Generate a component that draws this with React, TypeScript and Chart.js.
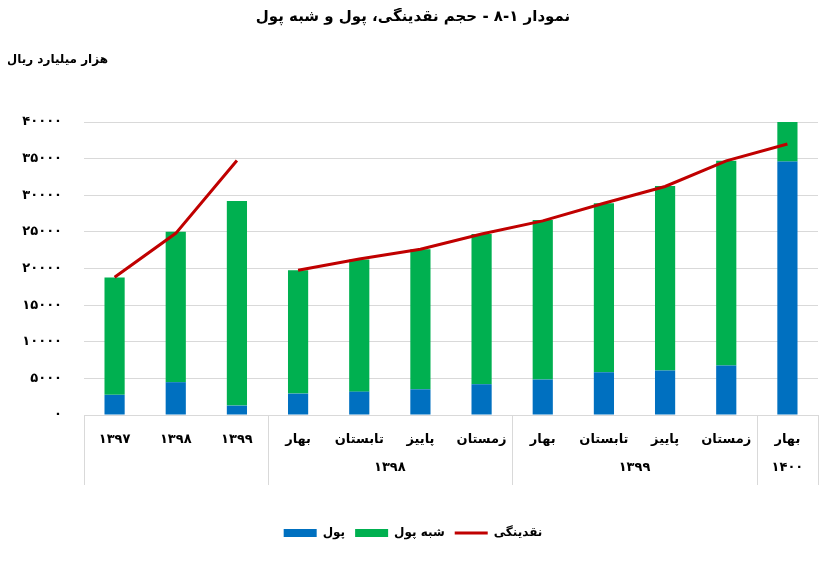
import React, { useEffect, useRef } from 'react';
import { Chart, registerables } from 'chart.js';

Chart.register(...registerables);

// ---- data ----
const categories = ['۱۳۹۷', '۱۳۹۸', '۱۳۹۹', 'بهار', 'تابستان', 'پاییز', 'زمستان', 'بهار', 'تابستان', 'پاییز', 'زمستان', 'بهار'];
const groupOf = ['', '', '', '۱۳۹۸', '۱۳۹۸', '۱۳۹۸', '۱۳۹۸', '۱۳۹۹', '۱۳۹۹', '۱۳۹۹', '۱۳۹۹', '۱۴۰۰'];
const money = [2750, 4480, 1280, 2920, 3190, 3510, 4200, 4840, 5840, 6070, 6750, 34600];
const quasiMoney = [16020, 20540, 27940, 16850, 18040, 19130, 20500, 21780, 23060, 25200, 27950, 5400];
const liquidity = [18800, 24800, 34750, 19770, 21300, 22640, 24700, 26500, 28900, 31200, 34700, 37000];
const yMin = 0;
const yMax = 40000;
const yStep = 5000;

const titleText = 'نمودار ١-٨ - حجم نقدینگی، پول و شبه پول';
const unitText = 'هزار میلیارد ریال';
const seriesNames = ['پول', 'شبه پول', 'نقدینگی'];

// ---- helpers ----
const FONT = "'DejaVu Sans', sans-serif";
const faDigits = '۰۱۲۳۴۵۶۷۸۹';
const toFa = (n: number | string) => String(n).replace(/\d/g, (d) => faDigits[Number(d)]);

const groupNames = groupOf.filter((g, i) => g !== '' && groupOf.indexOf(g) === i);
const groupCenters = groupNames.map((g) => (groupOf.indexOf(g) + groupOf.lastIndexOf(g)) / 2);
const boundaries: number[] = [-0.5];
for (let i = 1; i < groupOf.length; i++) {
  if (groupOf[i] !== groupOf[i - 1]) boundaries.push(i - 0.5);
}
boundaries.push(groupOf.length - 0.5);

const separatorPlugin = {
  id: 'separators',
  afterDraw(chart: any) {
    const sx = chart.scales.x2;
    const ctx = chart.ctx;
    const top = chart.chartArea.bottom;
    const bottom = top + 70;
    ctx.save();
    ctx.strokeStyle = '#d9d9d9';
    ctx.lineWidth = 1;
    boundaries.forEach((b) => {
      const px = Math.round(sx.getPixelForValue(b)) + 0.5;
      ctx.beginPath();
      ctx.moveTo(px, top);
      ctx.lineTo(px, bottom);
      ctx.stroke();
    });
    ctx.restore();
  },
};

const unitPlugin = {
  id: 'unitLabel',
  afterDraw(chart: any) {
    const ctx = chart.ctx;
    ctx.save();
    ctx.font = `bold 12px ${FONT}`;
    ctx.fillStyle = '#000';
    ctx.textAlign = 'right';
    ctx.textBaseline = 'middle';
    ctx.fillText(unitText, 100, 52);
    ctx.restore();
  },
};

export default function App() {
  const ref = useRef<HTMLCanvasElement | null>(null);

  useEffect(() => {
    if (!ref.current) return;
    const hidden = 'rgba(0,0,0,0)';
    const chart = new Chart(ref.current, {
      type: 'bar',
      data: {
        labels: categories,
        datasets: [
          {
            type: 'bar',
            label: seriesNames[0],
            data: money,
            backgroundColor: '#0070C0',
            borderWidth: 0,
            barPercentage: 0.33,
            categoryPercentage: 1,
            pointStyle: 'rect',
            stack: 'bars',
            order: 2,
          },
          {
            type: 'bar',
            label: seriesNames[1],
            data: quasiMoney,
            backgroundColor: '#00B050',
            borderWidth: 0,
            barPercentage: 0.33,
            categoryPercentage: 1,
            pointStyle: 'rect',
            stack: 'bars',
            order: 2,
          },
          {
            type: 'line',
            label: seriesNames[2],
            data: liquidity,
            borderColor: '#C00000',
            backgroundColor: '#C00000',
            borderWidth: 3,
            pointRadius: 0,
            pointHoverRadius: 0,
            pointBorderWidth: 3,
            pointBorderColor: '#C00000',
            pointStyle: 'line',
            tension: 0,
            stack: 'line',
            order: 0,
            segment: {
              borderColor: (c: any) =>
                (groupOf[c.p0DataIndex] === '') !== (groupOf[c.p1DataIndex] === '') ? hidden : undefined,
            },
          } as any,
        ],
      },
      options: {
        animation: false,
        responsive: true,
        maintainAspectRatio: false,
        layout: { padding: { left: 0, right: 10, top: 0, bottom: 7 } },
        plugins: {
          title: {
            display: true,
            text: titleText,
            color: '#000',
            font: { family: FONT, size: 15, weight: 'bold' },
            padding: { top: 0, bottom: 96 },
          },
          legend: {
            display: true,
            position: 'bottom',
            labels: {
              usePointStyle: true,
              pointStyleWidth: 33,
              boxHeight: 8,
              color: '#000',
              padding: 10,
              font: { family: FONT, size: 12, weight: 'bold' },
              sort: (a: any, b: any) => a.datasetIndex - b.datasetIndex,
            },
          },
          tooltip: { enabled: false },
        },
        scales: {
          x: {
            type: 'category',
            stacked: true,
            offset: true,
            grid: { display: false, drawTicks: false },
            border: { display: true, color: '#d9d9d9' },
            ticks: {
              color: '#000',
              font: { family: FONT, size: 13, weight: 'bold' },
              padding: 17,
              maxRotation: 0,
              autoSkip: false,
            },
            afterFit: (s: any) => {
              s.height = 38;
            },
          },
          x2: {
            type: 'linear',
            position: 'bottom',
            offset: false,
            min: -0.5,
            max: categories.length - 0.5,
            grid: { display: false, drawTicks: false },
            border: { display: false },
            afterBuildTicks: (s: any) => {
              s.ticks = groupCenters.map((v) => ({ value: v }));
            },
            ticks: {
              color: '#000',
              font: { family: FONT, size: 13, weight: 'bold' },
              padding: 7,
              maxRotation: 0,
              autoSkip: false,
              callback: (v: any) => {
                const k = groupCenters.indexOf(Number(v));
                return k >= 0 ? groupNames[k] : '';
              },
            },
            afterFit: (s: any) => {
              s.height = 64;
            },
          },
          y: {
            stacked: true,
            min: yMin,
            max: yMax,
            grid: { color: '#d9d9d9', drawTicks: false },
            border: { display: false },
            ticks: {
              stepSize: yStep,
              color: '#000',
              padding: 22,
              font: { family: FONT, size: 13, weight: 'bold' },
              callback: (v: any) => toFa(v),
            },
            afterFit: (s: any) => {
              s.width = 76;
            },
          },
        },
      },
      plugins: [separatorPlugin, unitPlugin],
    });
    return () => chart.destroy();
  }, []);

  return (
    <div style={{ width: 820, height: 548, position: 'relative' }}>
      <canvas ref={ref} style={{ direction: 'rtl' }} />
    </div>
  );
}
